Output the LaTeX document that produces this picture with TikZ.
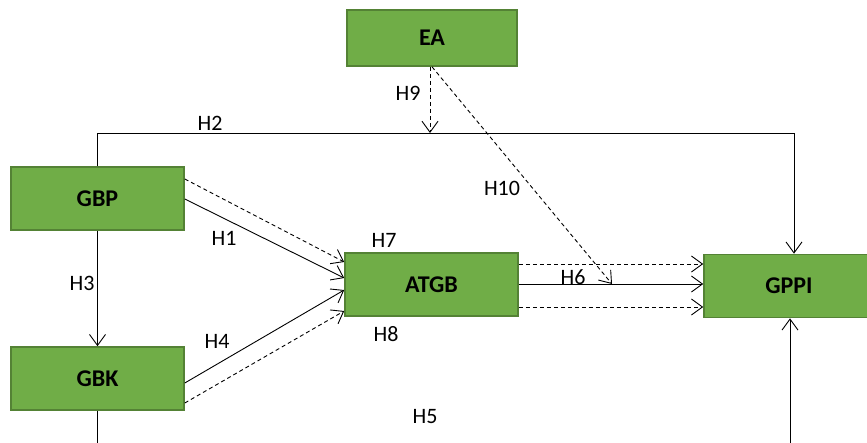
\documentclass[tikz,border=0pt]{standalone}
\usepackage{fontspec}
\setmainfont{Carlito}
\usetikzlibrary{arrows.meta,calc}
\definecolor{boxfill}{HTML}{70AD47}
\definecolor{boxedge}{HTML}{548235}
\begin{document}
\begin{tikzpicture}[x=1pt,y=-1pt,
  varbox/.style={draw=boxedge,line width=1.6pt,fill=boxfill,inner sep=0pt,
    minimum width=173pt,minimum height=63pt,
    font=\fontsize{24}{28}\selectfont\bfseries},
  link/.style={line width=0.9pt,-{Straight Barb[length=11pt,width=16pt,line width=0.9pt]}},
  plainline/.style={line width=0.9pt},
  dashline/.style={dash pattern=on 4pt off 3pt},
  hlabel/.style={font=\fontsize{22}{26}\selectfont,inner sep=0pt}]
\useasboundingbox (0,0) rectangle (867,443);
\clip (0,0) rectangle (867,443);

% constructs
\node[varbox,minimum width=170pt,minimum height=56pt] (EA) at (432,38) {EA};
\node[varbox] (GBP) at (97.5,198.5) {GBP};
\node[varbox] (GBK) at (97.5,378.5) {GBK};
\node[varbox] (ATGB) at (431.5,284.5) {ATGB};
\node[varbox,minimum width=170pt,minimum height=63pt] (GPPI) at (789,286) {GPPI};

% helper points
\coordinate (h2bar) at (430,133);
\coordinate (h6pt) at (612,284);
\coordinate (gbkend) at (97.5,443);
\coordinate (gppitop) at (794,133);
\coordinate (gppiin) at (790,443);

% H2: GBP over the top to GPPI
\draw[link] (GBP.north) |- (gppitop) -- (gppitop |- GPPI.north);
% H9: EA moderating H2
\draw[link,dashline] (EA.south -| h2bar) -- (h2bar);
% H10: EA moderating H6
\draw[link,dashline] (EA.south) -- (h6pt);

% GBP -> ATGB
\draw[link,dashline] ($(GBP.east)+(0,-19.5)$) -- ($(ATGB.west)+(0,-22.5)$);
\draw[link] ($(GBP.east)+(0,0.5)$) -- ($(ATGB.west)+(0,-6.5)$);
% GBK -> ATGB
\draw[link] ($(GBK.east)+(0,4.5)$) -- ($(ATGB.west)+(0,5.5)$);
\draw[link,dashline] ($(GBK.east)+(0,24.5)$) -- ($(ATGB.west)+(0,26.5)$);

% ATGB -> GPPI
\draw[link,dashline] ($(ATGB.east)+(0,-20.5)$) -- ($(GPPI.west)+(0,-22)$);
\draw[link] ($(ATGB.east)+(0,-0.5)$) -- ($(GPPI.west)+(0,-2)$);
\draw[link,dashline] ($(ATGB.east)+(0,22.5)$) -- ($(GPPI.west)+(0,21)$);

% H3: GBP -> GBK
\draw[link] (GBP.south) -- (GBK.north);
% H5: GBK -> GPPI along the bottom
\draw[plainline] (GBK.south) -- (gbkend);
\draw[link] (gppiin) -- (gppiin |- GPPI.south);

% hypothesis labels
\node[hlabel] (lH2) at (210,123) {H2};
\node[hlabel] (lH9) at (408,93) {H9};
\node[hlabel] (lH10) at (502,188) {H10};
\node[hlabel] (lH1) at (224,238) {H1};
\node[hlabel] (lH7) at (384,240) {H7};
\node[hlabel] (lH3) at (82,283) {H3};
\node[hlabel] (lH6) at (573,277) {H6};
\node[hlabel] (lH4) at (217,341) {H4};
\node[hlabel] (lH8) at (386,334) {H8};
\node[hlabel] (lH5) at (425,417) {H5};
\end{tikzpicture}
\end{document}
